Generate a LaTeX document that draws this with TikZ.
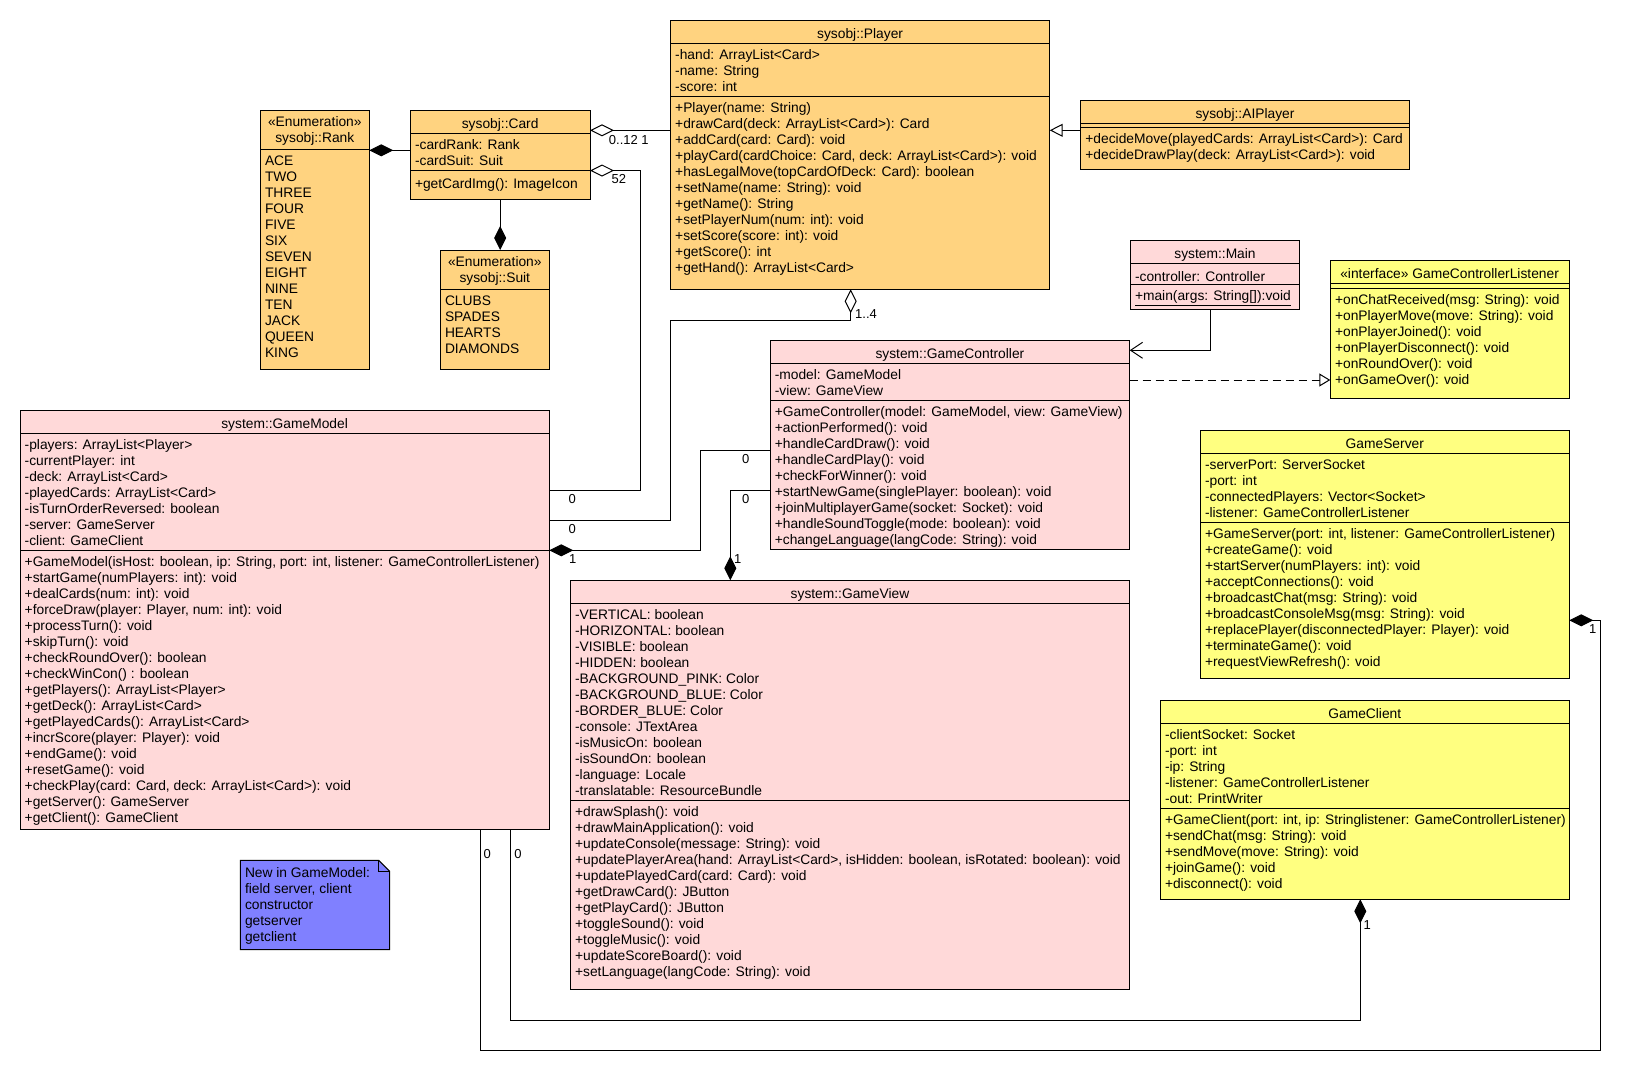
\documentclass[tikz,border=0pt]{standalone}
\usepackage{fontspec}
\setmainfont{Liberation Sans}
\usepackage{tikz}
\usetikzlibrary{arrows.meta,positioning}
\definecolor{sysorange}{RGB}{255,211,128}
\definecolor{syspink}{RGB}{255,217,217}
\definecolor{netyellow}{RGB}{255,255,128}
\definecolor{noteblue}{RGB}{128,128,255}
\newcommand{\umlfont}{\fontsize{13.8pt}{16pt}\selectfont}
\newcommand{\multfont}{\fontsize{13pt}{15pt}\selectfont}
\begin{document}
\begin{tikzpicture}[x=1pt,y=-1pt,
umlbox/.style={
draw,
line width=1pt,
anchor=north west,
inner sep=0pt,
outer sep=0pt
},
sysobj/.style={umlbox,fill=sysorange},
sysclass/.style={umlbox,fill=syspink},
netclass/.style={umlbox,fill=netyellow},
ctitle/.style={anchor=north,inner sep=0pt,align=center,font=\umlfont,execute at begin node=\rule{0pt}{12pt}},
members/.style={anchor=north west,inner sep=0pt,align=left,font=\umlfont,execute at begin node=\rule{0pt}{12pt}},
mult/.style={inner sep=0pt,font=\multfont},
link/.style={line width=1pt},
comp/.style={link,-{Diamond[length=24pt,width=12pt]}},
aggr/.style={link,-{Diamond[fill=white,length=24pt,width=12pt]}},
gen/.style={link,-{Triangle[fill=white,length=13pt,width=13pt]}},
real/.style={link,dash pattern=on 8pt off 5pt,-{Triangle[fill=white,length=11pt,width=13pt]}},
assoc/.style={link,-{Straight Barb[length=12pt,width=16pt]}},
]
\path[fill=white,use as bounding box] (0,0) rectangle (1640,1090);

\node (rank) [sysobj,minimum width=109pt,minimum height=259.3pt] at (260.3,110) {};
\draw[link] (rank.west |- 0,149.3) -- (rank.east |- 0,149.3);
\node (rank-t) [ctitle] at (314.8,116) {«Enumeration»\\sysobj::Rank};
\node (rank-a) [members] at (264.8,155.3) {ACE\\TWO\\THREE\\FOUR\\FIVE\\SIX\\SEVEN\\EIGHT\\NINE\\TEN\\JACK\\QUEEN\\KING};

\node (card) [sysobj,minimum width=179.7pt,minimum height=89.3pt] at (410.3,110) {};
\draw[link] (card.west |- 0,133.3) -- (card.east |- 0,133.3);
\draw[link] (card.west |- 0,170.3) -- (card.east |- 0,170.3);
\node (card-t) [ctitle] at (500.15,116) {sysobj::Card};
\node (card-a) [members] at (414.8,139.3) {-cardRank: Rank\\-cardSuit: Suit};
\node (card-m) [members] at (414.8,176.3) {+getCardImg(): ImageIcon};

\node (suit) [sysobj,minimum width=109pt,minimum height=119.3pt] at (440.3,250) {};
\draw[link] (suit.west |- 0,289.3) -- (suit.east |- 0,289.3);
\node (suit-t) [ctitle] at (494.8,256) {«Enumeration»\\sysobj::Suit};
\node (suit-a) [members] at (444.8,295.3) {CLUBS\\SPADES\\HEARTS\\DIAMONDS};

\node (player) [sysobj,minimum width=379.2pt,minimum height=269pt] at (670.5,20.3) {};
\draw[link] (player.west |- 0,43.3) -- (player.east |- 0,43.3);
\draw[link] (player.west |- 0,96.3) -- (player.east |- 0,96.3);
\node (player-t) [ctitle] at (860.1,26.3) {sysobj::Player};
\node (player-a) [members] at (675,49.3) {-hand: ArrayList<Card>\\-name: String\\-score: int};
\node (player-m) [members] at (675,102.3) {+Player(name: String)\\+drawCard(deck: ArrayList<Card>): Card\\+addCard(card: Card): void\\+playCard(cardChoice: Card, deck: ArrayList<Card>): void\\+hasLegalMove(topCardOfDeck: Card): boolean\\+setName(name: String): void\\+getName(): String\\+setPlayerNum(num: int): void\\+setScore(score: int): void\\+getScore(): int\\+getHand(): ArrayList<Card>};

\node (aiplayer) [sysobj,minimum width=328.7pt,minimum height=69pt] at (1080.7,100.3) {};
\draw[link] (aiplayer.west |- 0,123.3) -- (aiplayer.east |- 0,123.3);
\draw[link] (aiplayer.west |- 0,127.3) -- (aiplayer.east |- 0,127.3);
\node (aiplayer-t) [ctitle] at (1245,106.3) {sysobj::AIPlayer};
\node (aiplayer-m) [members] at (1085.2,133.3) {+decideMove(playedCards: ArrayList<Card>): Card\\+decideDrawPlay(deck: ArrayList<Card>): void};

\node (main) [sysclass,minimum width=169.4pt,minimum height=69pt] at (1130.3,240.3) {};
\draw[link] (main.west |- 0,263.3) -- (main.east |- 0,263.3);
\draw[link] (main.west |- 0,284) -- (main.east |- 0,284);
\node (main-t) [ctitle] at (1215,246.3) {system::Main};
\node (main-a) [members] at (1134.8,269.3) {-controller: Controller};
\node (main-m) [members] at (1134.8,288.3) {\underline{+main(args: String[]):void}};

\node (listener) [netclass,minimum width=238.7pt,minimum height=137.8pt] at (1330.3,260.7) {};
\draw[link] (listener.west |- 0,283.3) -- (listener.east |- 0,283.3);
\draw[link] (listener.west |- 0,288.3) -- (listener.east |- 0,288.3);
\node (listener-t) [ctitle] at (1449.6,266.7) {«interface» GameControllerListener};
\node (listener-m) [members] at (1334.8,294.3) {+onChatReceived(msg: String): void\\+onPlayerMove(move: String): void\\+onPlayerJoined(): void\\+onPlayerDisconnect(): void\\+onRoundOver(): void\\+onGameOver(): void};

\node (controller) [sysclass,minimum width=359.6pt,minimum height=208.7pt] at (770.1,340.3) {};
\draw[link] (controller.west |- 0,363.3) -- (controller.east |- 0,363.3);
\draw[link] (controller.west |- 0,400.7) -- (controller.east |- 0,400.7);
\node (controller-t) [ctitle] at (949.9,346.3) {system::GameController};
\node (controller-a) [members] at (774.6,369.3) {-model: GameModel\\-view: GameView};
\node (controller-m) [members] at (774.6,406.7) {+GameController(model: GameModel, view: GameView)\\+actionPerformed(): void\\+handleCardDraw(): void\\+handleCardPlay(): void\\+checkForWinner(): void\\+startNewGame(singlePlayer: boolean): void\\+joinMultiplayerGame(socket: Socket): void\\+handleSoundToggle(mode: boolean): void\\+changeLanguage(langCode: String): void};

\node (model) [sysclass,minimum width=529.3pt,minimum height=418.7pt] at (20,410.3) {};
\draw[link] (model.west |- 0,433.3) -- (model.east |- 0,433.3);
\draw[link] (model.west |- 0,550.3) -- (model.east |- 0,550.3);
\node (model-t) [ctitle] at (284.6,416.3) {system::GameModel};
\node (model-a) [members] at (24.5,439.3) {-players: ArrayList<Player>\\-currentPlayer: int\\-deck: ArrayList<Card>\\-playedCards: ArrayList<Card>\\-isTurnOrderReversed: boolean\\-server: GameServer\\-client: GameClient};
\node (model-m) [members] at (24.5,556.3) {+GameModel(isHost: boolean, ip: String, port: int, listener: GameControllerListener)\\+startGame(numPlayers: int): void\\+dealCards(num: int): void\\+forceDraw(player: Player, num: int): void\\+processTurn(): void\\+skipTurn(): void\\+checkRoundOver(): boolean\\+checkWinCon() : boolean\\+getPlayers(): ArrayList<Player>\\+getDeck(): ArrayList<Card>\\+getPlayedCards(): ArrayList<Card>\\+incrScore(player: Player): void\\+endGame(): void\\+resetGame(): void\\+checkPlay(card: Card, deck: ArrayList<Card>): void\\+getServer(): GameServer\\+getClient(): GameClient};

\node (view) [sysclass,minimum width=559.3pt,minimum height=409pt] at (570.4,580.3) {};
\draw[link] (view.west |- 0,603.3) -- (view.east |- 0,603.3);
\draw[link] (view.west |- 0,800.3) -- (view.east |- 0,800.3);
\node (view-t) [ctitle] at (850,586.3) {system::GameView};
\node (view-a) [members] at (574.9,609.3) {-VERTICAL: boolean\\-HORIZONTAL: boolean\\-VISIBLE: boolean\\-HIDDEN: boolean\\-BACKGROUND\_PINK: Color\\-BACKGROUND\_BLUE: Color\\-BORDER\_BLUE: Color\\-console: JTextArea\\-isMusicOn: boolean\\-isSoundOn: boolean\\-language: Locale\\-translatable: ResourceBundle};
\node (view-m) [members] at (574.9,806.3) {+drawSplash(): void\\+drawMainApplication(): void\\+updateConsole(message: String): void\\+updatePlayerArea(hand: ArrayList<Card>, isHidden: boolean, isRotated: boolean): void\\+updatePlayedCard(card: Card): void\\+getDrawCard(): JButton\\+getPlayCard(): JButton\\+toggleSound(): void\\+toggleMusic(): void\\+updateScoreBoard(): void\\+setLanguage(langCode: String): void};

\node (server) [netclass,minimum width=369pt,minimum height=248.4pt] at (1200.3,430.3) {};
\draw[link] (server.west |- 0,453.3) -- (server.east |- 0,453.3);
\draw[link] (server.west |- 0,522.7) -- (server.east |- 0,522.7);
\node (server-t) [ctitle] at (1384.8,436.3) {GameServer};
\node (server-a) [members] at (1204.8,459.3) {-serverPort: ServerSocket\\-port: int\\-connectedPlayers: Vector<Socket>\\-listener: GameControllerListener};
\node (server-m) [members] at (1204.8,528.7) {+GameServer(port: int, listener: GameControllerListener)\\+createGame(): void\\+startServer(numPlayers: int): void\\+acceptConnections(): void\\+broadcastChat(msg: String): void\\+broadcastConsoleMsg(msg: String): void\\+replacePlayer(disconnectedPlayer: Player): void\\+terminateGame(): void\\+requestViewRefresh(): void};

\node (client) [netclass,minimum width=409pt,minimum height=199pt] at (1160.3,700.3) {};
\draw[link] (client.west |- 0,723.3) -- (client.east |- 0,723.3);
\draw[link] (client.west |- 0,808) -- (client.east |- 0,808);
\node (client-t) [ctitle] at (1364.8,706.3) {GameClient};
\node (client-a) [members] at (1164.8,729.3) {-clientSocket: Socket\\-port: int\\-ip: String\\-listener: GameControllerListener\\-out: PrintWriter};
\node (client-m) [members] at (1164.8,814) {+GameClient(port: int, ip: Stringlistener: GameControllerListener)\\+sendChat(msg: String): void\\+sendMove(move: String): void\\+joinGame(): void\\+disconnect(): void};

\node (note) [anchor=north west,inner sep=0pt,minimum width=149pt,minimum height=89pt] at (240.3,860.3) {};
\draw[link,fill=noteblue] (note.north west) -- ([xshift=-11pt]note.north east) -- ([yshift=-11pt]note.north east) -- (note.south east) -- (note.south west) -- cycle;
\draw[link] ([xshift=-11pt]note.north east) -- ([xshift=-11pt,yshift=-11pt]note.north east) -- ([yshift=-11pt]note.north east);
\node (note-t) [members] at (244.8,867.3) {New in GameModel:\\field server, client\\constructor\\getserver\\getclient};

\draw[comp] (card.west |- 0,150.3) -- (rank.east |- 0,150.3);
\draw[comp] (card.south) -- (card.south |- suit.north);
\draw[aggr] (player.west |- 0,130.3) -- (card.east |- 0,130.3);
\draw[aggr] (model.east |- 0,490.3) -| (640.3,170.5) -- (card.east |- 0,170.5);
\draw[aggr] (model.east |- 0,520) -| (670.3,320.7) -| (player.south -| 850.7,0);
\draw[comp] (controller.west |- 0,450.3) -| (700.3,550.3) -- (model.east |- 0,550.3);
\draw[comp] (controller.west |- 0,490.3) -| (view.north -| 730.3,0);
\draw[gen] (aiplayer.west |- 0,130.3) -- (player.east |- 0,130.3);
\draw[assoc] ([xshift=-4.7pt]main.south) |- (controller.east |- 0,350.3);
\draw[real] (controller.east |- 0,380) -- (listener.west |- 0,380);
\draw[comp] (model.south -| 480.7,0) -- (480.7,1050) -| (1600,620.3) -- (server.east |- 0,620.3);
\draw[comp] (model.south -| 510.3,0) |- (1360.3,1020) -- (client.south -| 1360.3,0);

\node (m-card1) [mult] at (628.8,140) {0..12 1};
\node (m-card2) [mult] at (618.8,179.3) {52};
\node (m-player) [mult] at (866,314.3) {1..4};
\node (m-model1) [mult] at (572.3,499.3) {0};
\node (m-model2) [mult] at (572.3,529) {0};
\node (m-model3) [mult] at (572.7,559.3) {1};
\node (m-ctrl1) [mult] at (745.7,459.3) {0};
\node (m-ctrl2) [mult] at (745.7,499.3) {0};
\node (m-view) [mult] at (737.7,559.3) {1};
\node (m-model4) [mult] at (487.3,854) {0};
\node (m-model5) [mult] at (518,854) {0};
\node (m-client) [mult] at (1367.3,925) {1};
\node (m-server) [mult] at (1592.7,629.3) {1};
\end{tikzpicture}
\end{document}
